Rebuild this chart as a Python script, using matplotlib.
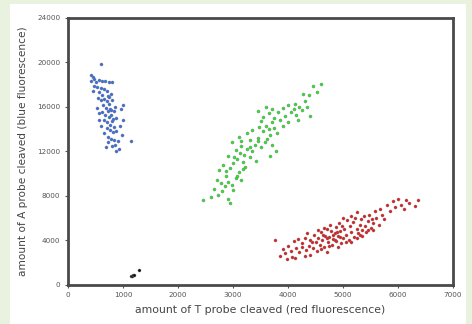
import matplotlib
matplotlib.use('Agg')
import matplotlib.pyplot as plt
from matplotlib.patches import Rectangle

# cluster points (x = T probe, y = A probe)
blue_x = [595, 420, 450, 480, 410, 500, 560, 620, 680, 740, 800,
          470, 530, 600, 650, 700, 560, 620, 720, 780, 450,
          540, 600, 660, 700, 750, 800, 640, 690, 760, 720,
          520, 560, 620, 680, 740, 790, 830, 870, 960, 1000,
          650, 710, 760, 800, 830, 700, 760, 820, 880, 940,
          600, 660, 720, 780, 840, 900, 860, 800, 920, 880,
          1000, 980, 1140, 560, 730, 690, 850, 780, 740, 820]
blue_y = [19900, 18900, 18700, 18500, 18300, 18200, 18400, 18300, 18350, 18200, 18250,
          17900, 17800, 17700, 17600, 17400, 17300, 17100, 17000, 17200, 17400,
          16800, 16600, 16700, 16500, 16300, 16600, 16200, 15900, 15800, 15600,
          15900, 15400, 15500, 15300, 15100, 15300, 15600, 15000, 15800, 16200,
          14800, 14600, 14400, 14700, 14200, 14100, 13900, 13700, 13800, 14300,
          14300, 13600, 13300, 13100, 13000, 12900, 12600, 12500, 12200, 12000,
          14800, 13500, 12900, 14800, 12800, 12400, 16000, 15700, 16900, 14900]

green_x = [2460, 2600, 2720, 2650, 2800, 2900, 2950, 2780, 2850, 2700,
           2900, 2980, 3000, 3050, 2880, 2750, 2820, 2950, 3100, 3150,
           3000, 3080, 3120, 3050, 2900, 3180, 3200, 3250, 3150, 3300,
           3350, 3220, 3400, 3300, 3100, 2980, 3450, 3500, 3420, 3550,
           3600, 3650, 3700, 3680, 3620, 3750, 3800, 3700, 3680, 3780,
           3550, 3650, 3750, 3850, 3900, 3500, 3600, 3450, 3950, 4000,
           4050, 4100, 4150, 4200, 4120, 4000, 4250, 4180, 3900, 4300,
           4350, 4400, 4450, 4600, 4520, 4380, 4280, 3820, 3700, 3350,
           3250, 3150, 3020, 2870, 3180, 3080, 3300, 3450, 3580, 3480]
green_y = [7630, 7900, 8100, 8600, 8400, 7700, 7300, 9100, 8900, 9400,
           9200, 9000, 8500, 9600, 9800, 10300, 10800, 10500, 10100, 9400,
           10900, 11300, 11800, 12100, 11600, 11000, 11700, 12200, 12500, 11500,
           12000, 10600, 12600, 13000, 13300, 12800, 13200, 12400, 11100, 13800,
           14300, 14000, 14600, 13500, 13100, 14100, 13600, 12600, 11600, 12000,
           15100, 15400, 15000, 14800, 14300, 14700, 16000, 15600, 15200, 14600,
           15500, 15800, 15300, 16000, 16300, 16200, 15700, 14800, 15900, 16500,
           16000, 15200, 17900, 18100, 17300, 17100, 17200, 15500, 15800, 13900,
           13600, 12900, 11500, 10200, 10400, 9800, 12400, 12900, 12800, 14200]

red_x = [3764, 3855, 3900, 3950, 4000, 4050, 4080, 4100, 4150, 4200,
         4250, 4300, 4320, 4380, 4400, 4450, 4480, 4500, 4520, 4550,
         4580, 4600, 4620, 4650, 4680, 4700, 4720, 4750, 4780, 4800,
         4820, 4850, 4870, 4880, 4900, 4920, 4950, 4970, 5000, 5020,
         5050, 5080, 5100, 5120, 5150, 5180, 5200, 5220, 5250, 5280,
         5300, 5330, 5350, 5380, 5400, 5420, 5450, 5480, 5500, 5520,
         5550, 5580, 5600, 5650, 5680, 5700, 5750, 5800, 5850, 5900,
         5950, 6000, 6050, 6100, 6150, 6200, 6300, 6370, 5450, 5300,
         4980, 4760, 4650, 4550, 4430, 4350, 4250, 4180, 4600, 4700,
         4900, 5150, 4850, 4750, 4820, 4950, 5050, 5250, 5350, 5550,
         4400, 4300, 3980, 4120, 5000, 5150, 5250, 4700, 4640, 4890]
red_y = [4050, 2550, 3200, 2800, 3500, 3000, 2500, 3900, 3300, 2900,
         3700, 4200, 3100, 3500, 4000, 3300, 4500, 3800, 3000, 4200,
         3600, 4700, 4000, 3400, 4400, 5000, 3800, 4300, 4800, 3600,
         4100, 4600, 5200, 3900, 4400, 5500, 4800, 3700, 4200, 5000,
         4500, 5800, 4000, 5300, 4700, 5600, 4300, 6000, 5000, 4600,
         5400, 5900, 4900, 6200, 5300, 4700, 5700, 6300, 5100, 5900,
         5500, 6600, 6000, 5400, 6800, 6300, 5900, 7200, 6600, 7500,
         7000, 7700, 7200, 6800, 7600, 7300, 7100, 7570, 4900, 4500,
         5300, 5400, 5100, 4900, 3800, 4600, 3400, 4100, 3200, 2900,
         3400, 3800, 4000, 3500, 4500, 4300, 3800, 4200, 4400, 4900,
         2700, 2600, 2300, 2400, 6000, 6200, 6500, 4200, 4500, 4700]

black_x = [1140, 1158, 1180, 1200, 1297]
black_y = [780, 810, 900, 850, 1290]

x_ticks = [0, 1000, 2000, 3000, 4000, 5000, 6000, 7000]
y_ticks = [0, 4000, 8000, 12000, 16000, 20000, 24000]

fig = plt.figure(figsize=(4.72, 3.24), dpi=100)
fig.patch.set_facecolor('#e9f2df')
# white panel behind the chart
fig.add_artist(Rectangle((10/472, 0), 456/472, 320/324, transform=fig.transFigure,
                         facecolor='white', edgecolor='none', zorder=-10))

ax = fig.add_axes([68/472, 1 - 284.5/324, 385/472, 266.5/324])
ax.set_facecolor('white')

def dots(xs, ys, col):
    ax.scatter(xs, ys, s=5, c=col, edgecolors='#777777', linewidths=0.25, zorder=3)

dots(blue_x, blue_y, '#3a6fe0')
dots(green_x, green_y, '#33e033')
dots(red_x, red_y, '#e02020')
dots(black_x, black_y, '#111111')

ax.set_xlim(0, 7000)
ax.set_ylim(0, 24000)
ax.set_xticks(x_ticks)
ax.set_yticks(y_ticks)
ax.tick_params(labelsize=5.2, labelcolor='#555555', length=2, width=0.8, color='#555555')
for s in ax.spines.values():
    s.set_linewidth(2)
    s.set_color('#4a4a4a')

ax.set_xlabel('amount of T probe cleaved (red fluorescence)', fontsize=7.8,
              color='#444444', labelpad=5)
ax.set_ylabel('amount of A probe cleaved (blue fluorescence)', fontsize=7.6,
              color='#444444', labelpad=7)

plt.savefig('out.png', dpi=100, facecolor=fig.get_facecolor())
